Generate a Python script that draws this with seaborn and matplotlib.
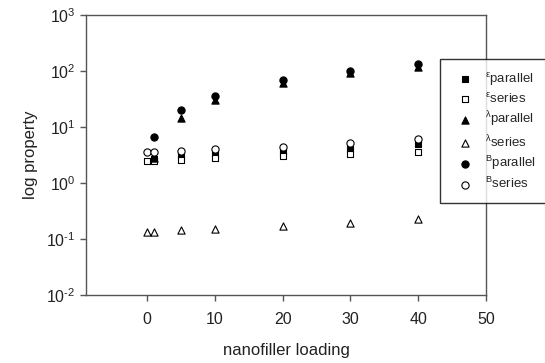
import numpy as np
import pandas as pd
import matplotlib
matplotlib.use("Agg")
import matplotlib.pyplot as plt
import seaborn as sns

# values
load_series = [0, 1, 5, 10, 20, 30, 40]
load_parallel = [1, 5, 10, 20, 30, 40]

eps_parallel = [2.7, 3.0, 3.3, 3.6, 4.0, 5.0]
eps_series = [2.5, 2.5, 2.6, 2.8, 3.0, 3.3, 3.6]
lam_parallel = [2.8, 14.7, 30, 61, 91, 118]
lam_series = [0.133, 0.133, 0.145, 0.149, 0.17, 0.195, 0.23]
B_parallel = [6.7, 20, 36, 68, 100, 136]
B_series = [3.6, 3.6, 3.8, 4.0, 4.4, 5.2, 6.1]

xticks = [0, 10, 20, 30, 40, 50]
yticks = [1e-2, 1e-1, 1e0, 1e1, 1e2, 1e3]
ytick_labels = ['10$^{\u2010 2}$', '10$^{\u2010 1}$', '10$^{0}$', '10$^{1}$', '10$^{2}$', '10$^{3}$']

sns.set_style("ticks")
plt.rcParams['font.family'] = ['Liberation Sans', 'DejaVu Sans']
plt.rcParams['mathtext.fontset'] = 'custom'
plt.rcParams['mathtext.rm'] = 'Liberation Sans'
plt.rcParams['mathtext.it'] = 'Liberation Sans'
plt.rcParams['mathtext.default'] = 'regular'

fig = plt.figure(figsize=(5.45, 3.63), dpi=100)
ax = fig.add_axes([86 / 545, 68 / 363, 400 / 545, 280 / 363])

series = [
    (load_parallel, eps_parallel, 's', 'black', r'$^{\varepsilon}$parallel', 4.5),
    (load_series, eps_series, 's', 'white', r'$^{\varepsilon}$series', 4.5),
    (load_parallel, lam_parallel, '^', 'black', r'$^{\lambda}$parallel', 5.2),
    (load_series, lam_series, '^', 'white', r'$^{\lambda}$series', 5.2),
    (load_parallel, B_parallel, 'o', 'black', r'$^{B}$parallel', 5.2),
    (load_series, B_series, 'o', 'white', r'$^{B}$series', 5.2),
]

for x, y, m, fc, lab, ms in series:
    sns.scatterplot(x=x, y=y, marker=m, s=ms ** 2, facecolor=fc, edgecolor='black',
                    linewidth=0.8, label=lab, ax=ax, zorder=3)

ax.set_yscale('log')
ax.set_ylim(1e-2, 1e3)
ax.set_xlim(-9, 50)
ax.set_xticks(xticks)
ax.set_yticks(yticks)
ax.set_yticklabels(ytick_labels)
ax.minorticks_off()
ax.tick_params(axis='both', labelsize=11.5, length=4, width=1, color='#555555',
               labelcolor='#222222', direction='out')
ax.tick_params(axis='x', pad=8)
ax.tick_params(top=False, right=False)
for sp in ax.spines.values():
    sp.set_color('#555555')
    sp.set_linewidth(1)

ax.set_xlabel('nanofiller loading', fontsize=12, labelpad=12, color='#222222')
ax.set_ylabel('log property', fontsize=12, labelpad=6, color='#222222')

leg = ax.legend(loc='upper left', bbox_to_anchor=(440 / 545, 0, 130 / 545, 1 - 59 / 363),
                bbox_transform=fig.transFigure, mode='expand', fontsize=9.5,
                frameon=True, fancybox=False, edgecolor='black', borderpad=0.9,
                labelspacing=0.3, handletextpad=0.5, borderaxespad=0)
leg.get_frame().set_linewidth(1)

fig.savefig('out.png', dpi=100)
